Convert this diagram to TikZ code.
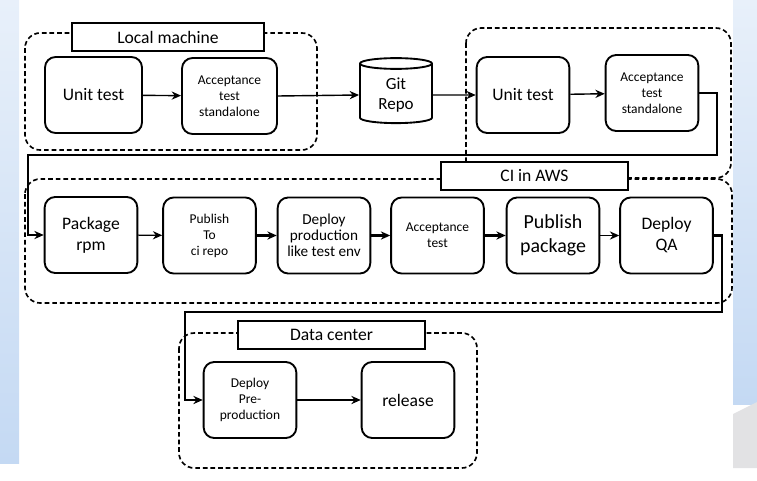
\documentclass[tikz,border=0pt]{standalone}
\usepackage{fontspec}
\setmainfont{Carlito}
\usetikzlibrary{shapes.geometric,arrows.meta}
\definecolor{slidetop}{RGB}{232,240,250}
\definecolor{slidebot}{RGB}{196,217,243}
\definecolor{slidegrey}{RGB}{226,226,228}
\begin{document}
\begin{tikzpicture}[>={Stealth[length=8pt,width=7pt]}, x=0.03cm, y=-0.03cm,
  box/.style={draw, line width=1.6pt, rounded corners=9pt, minimum width=2.78cm, minimum height=2.28cm, align=center, font=\fontsize{15}{18}\selectfont},
  small/.style={font=\fontsize{11.5}{13.6}\selectfont},
  title/.style={draw, line width=2.2pt, fill=white, minimum height=0.84cm, font=\fontsize{15}{18}\selectfont},
  zone/.style={draw, line width=1.4pt, dash pattern=on 4pt off 2.5pt, rounded corners=13pt},
  flow/.style={->, line width=1.2pt},
  bigflow/.style={->, line width=2.3pt}]
\useasboundingbox (0,0) rectangle (757,481);
% slide background
\shade[top color=slidetop, bottom color=slidebot] (0,0) rectangle (19,463);
\shade[top color=slidetop, bottom color=slidebot] (733,0) rectangle (757,404);
\fill[slidegrey] (733,414) -- (757,402) -- (757,468) -- (733,468) -- cycle;
% dashed zones
\draw[zone] (25,33) rectangle (317,150);
\draw[zone] (466,28) rectangle (731,178);
\draw[zone] (25,179) rectangle (732,303);
\draw[zone] (179,333) rectangle (477,468);
\node (tlocal) at (168,37) [title, minimum width=5.76cm] {Local machine};
\node (tci) at (534.5,176) [title, minimum width=5.61cm] {CI in AWS};
\node (tdc) at (331.5,335) [title, minimum width=5.61cm] {Data center};
% local machine
\node (ut1) at (93.5,95) [box, minimum width=2.91cm] {Unit test};
\node (at1) at (229.5,96) [box, small, minimum width=2.85cm] {Acceptance\\test\\standalone};
\node (git) at (396,95) [cylinder, shape border rotate=90, draw, line width=1.6pt, aspect=0.25, minimum width=2.16cm, minimum height=1.95cm, align=center, font=\fontsize{14.5}{17}\selectfont] {Git\\Repo};
% ci
\node (ut2) at (523,95) [box] {Unit test};
\node (at2) at (652,93) [box, small] {Acceptance\\test\\standalone};
\node (pkg) at (91,235) [box] {Package\\rpm};
\node (pub) at (209.5,235.5) [box, small] {Publish\\To\\ci repo};
\node (dep) at (324,235.5) [box, font=\fontsize{13}{13.6}\selectfont] {Deploy\\production\\like test env};
\node (acc) at (437.5,235.5) [box, small] {Acceptance\\test};
\node (ppk) at (553,235.5) [box, font=\fontsize{17}{20}\selectfont] {Publish\\package};
\node (dqa) at (666.5,235.5) [box] {Deploy\\QA};
% data center
\node (dpp) at (250,400) [box, small] {Deploy\\Pre-\\production};
\node (rel) at (408,400) [box] {release};
\coordinate (r1) at (717,155);
\coordinate (l1) at (28,155);
\coordinate (r2) at (722,312);
\coordinate (l2) at (185,312);

\draw[flow] (ut1) -- (at1);
\draw[flow] (at1.east) -- (git.west);
\draw[flow] (git.east) -- (ut2.west);
\draw[flow] (ut2) -- (at2);
\draw[bigflow] (at2.east) -| (r1) -- (l1) |- (pkg.west);
\draw[flow] (pkg) -- (pub);
\draw[bigflow] (pub) -- (dep);
\draw[bigflow] (dep) -- (acc);
\draw[bigflow] (acc) -- (ppk);
\draw[flow] (ppk) -- (dqa);
\draw[bigflow] (dqa.east) -| (r2) -- (l2) |- (dpp.west);
\draw[bigflow] (dpp) -- (rel);

\end{tikzpicture}
\end{document}
